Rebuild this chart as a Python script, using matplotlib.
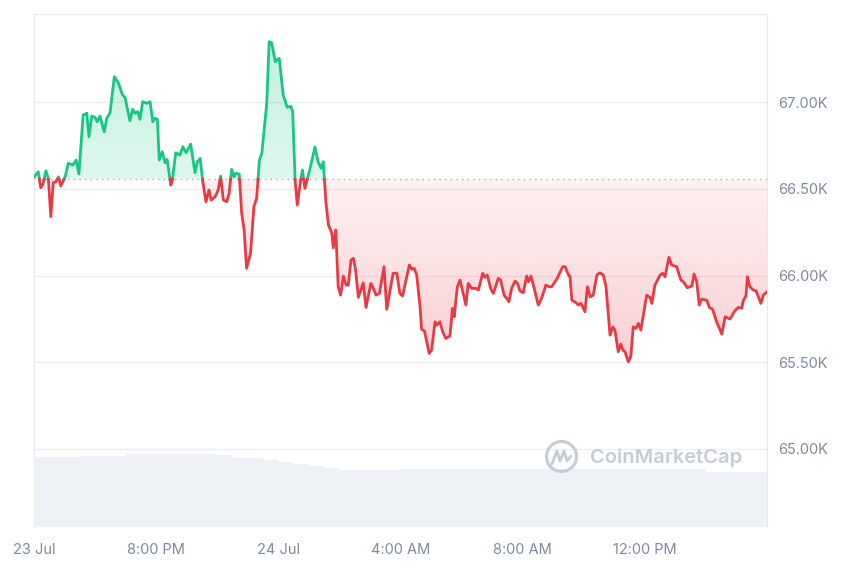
import numpy as np
import matplotlib.pyplot as plt
from matplotlib.colors import to_rgb
from matplotlib.patches import Circle
from matplotlib.path import Path
from matplotlib.patches import PathPatch
from matplotlib.ticker import FuncFormatter

plt.rcParams['font.family'] = ['Inter', 'DejaVu Sans']

# hours since 23 Jul 16:00
hours = [0.00, 0.14, 0.22, 0.30, 0.39, 0.47, 0.55, 0.63, 0.72, 0.80, 0.88, 1.02, 1.12, 1.27, 1.38, 1.47,
         1.61, 1.73, 1.80, 1.89, 2.00, 2.07, 2.16, 2.30, 2.38, 2.49, 2.63, 2.76, 2.90, 2.98, 3.14, 3.23,
         3.31, 3.40, 3.47, 3.56, 3.69, 3.80, 3.89, 3.96, 4.04, 4.10, 4.20, 4.29, 4.36, 4.48, 4.53, 4.64,
         4.78, 4.87, 4.98, 5.05, 5.13, 5.27, 5.35, 5.44, 5.52, 5.63, 5.73, 5.80, 5.93, 6.03, 6.11, 6.20,
         6.31, 6.39, 6.47, 6.55, 6.61, 6.72, 6.80, 6.88, 6.96, 7.09, 7.20, 7.29, 7.38, 7.46, 7.62, 7.70,
         7.78, 7.90, 7.97, 8.03, 8.16, 8.29, 8.41, 8.47, 8.55, 8.62, 8.71, 8.79, 8.87, 9.04, 9.20, 9.30,
         9.40, 9.47, 9.56, 9.64, 9.75, 9.80, 9.88, 9.96, 10.04, 10.13, 10.22, 10.29, 10.38, 10.46, 10.53,
         10.62, 10.73, 10.78, 10.87, 11.03, 11.11, 11.20, 11.31, 11.46, 11.55, 11.66, 11.76, 11.88, 11.98,
         12.07, 12.18, 12.29, 12.37, 12.45, 12.53, 12.64, 12.69, 12.78, 12.86, 12.94, 13.02, 13.13, 13.19,
         13.29, 13.38, 13.48, 13.62, 13.70, 13.76, 13.86, 13.95, 14.14, 14.22, 14.33, 14.47, 14.55, 14.69,
         14.77, 14.84, 14.95, 15.04, 15.20, 15.28, 15.39, 15.48, 15.55, 15.64, 15.75, 15.83, 15.91, 16.02,
         16.13, 16.19, 16.27, 16.35, 16.51, 16.62, 16.76, 16.87, 16.95, 17.13, 17.31, 17.39, 17.50, 17.55,
         17.61, 17.75, 17.82, 17.91, 18.04, 18.12, 18.21, 18.31, 18.43, 18.53, 18.64, 18.73, 18.86, 18.95,
         19.02, 19.13, 19.21, 19.28, 19.35, 19.46, 19.54, 19.62, 19.71, 19.79, 19.87, 20.06, 20.17, 20.23,
         20.33, 20.50, 20.59, 20.66, 20.79, 20.88, 21.04, 21.18, 21.26, 21.39, 21.54, 21.61, 21.70, 21.78,
         21.86, 22.03, 22.11, 22.22, 22.35, 22.52, 22.63, 22.79, 22.95, 23.06, 23.17, 23.23, 23.31, 23.36,
         23.44, 23.55, 23.64, 23.80, 23.88, 24.00]

price = [66569, 66599, 66507, 66532, 66605, 66561, 66340, 66536, 66542, 66570, 66517, 66570, 66648, 66638,
         66667, 66586, 66927, 66937, 66801, 66921, 66913, 66888, 66921, 66830, 66908, 66940, 67148, 67113,
         67042, 67029, 66894, 66960, 66937, 66946, 66902, 67004, 66994, 67004, 66888, 66908, 66902, 66667,
         66715, 66651, 66671, 66523, 66551, 66709, 66696, 66744, 66709, 66734, 66759, 66594, 66657, 66677,
         66551, 66426, 66494, 66436, 66455, 66494, 66574, 66436, 66426, 66475, 66613, 66570, 66590, 66586,
         66359, 66263, 66042, 66128, 66397, 66446, 66667, 66706, 66994, 67350, 67344, 67234, 67248, 67254,
         67042, 66971, 66977, 66946, 66551, 66407, 66523, 66609, 66503, 66619, 66742, 66657, 66619, 66657,
         66419, 66292, 66245, 66159, 66263, 65935, 65887, 65997, 65945, 65945, 66090, 66099, 66032, 65874,
         65932, 65958, 65816, 65955, 65926, 65887, 65897, 66051, 65805, 65916, 66013, 66013, 65897, 65882,
         65974, 66061, 66036, 66042, 66003, 65820, 65689, 65681, 65618, 65551, 65570, 65733, 65714, 65733,
         65676, 65637, 65651, 65811, 65762, 65935, 65974, 65830, 65955, 65926, 65926, 65916, 66013, 65990,
         66003, 65926, 65897, 65984, 65974, 65887, 65868, 65849, 65926, 65968, 65955, 65912, 65901, 65997,
         65964, 65997, 65945, 65830, 65868, 65945, 65935, 65935, 65984, 66051, 66051, 66003, 65993, 65858,
         65843, 65830, 65839, 65791, 65935, 65877, 65887, 66003, 66016, 66003, 65935, 65656, 65703, 65685,
         65560, 65604, 65570, 65560, 65502, 65531, 65704, 65695, 65724, 65685, 65887, 65874, 65839, 65945,
         66003, 66013, 65993, 66105, 66061, 66051, 65974, 65964, 65930, 65939, 66009, 65964, 65830, 65864,
         65858, 65816, 65805, 65733, 65662, 65762, 65749, 65797, 65816, 65811, 65858, 65882, 65993, 65935,
         65916, 65912, 65839, 65887, 65906]

open_price = 66555

# 24h volume, $B, half-hour steps
volume = [27.3, 27.3, 27.3, 27.7, 27.7, 27.7, 28.2, 28.4, 28.4, 28.4, 28.4, 28.4,
          27.8, 26.9, 26.6, 25.8, 25.2, 24.5, 23.8, 23.0, 22.1, 22.1, 22.1, 22.2,
          22.5, 22.5, 22.5, 22.5, 22.5, 22.5, 22.5, 22.5, 22.5, 22.5, 22.5, 22.5,
          22.5, 22.5, 22.5, 22.5, 22.5, 22.5, 22.5, 22.5, 21.5, 21.5, 21.5, 21.5]

tick_hours = [0, 4, 8, 12, 16, 20]
tick_labels = ['23 Jul', '8:00 PM', '24 Jul', '4:00 AM', '8:00 AM', '12:00 PM']
price_ticks = [65000, 65500, 66000, 66500, 67000]

green = '#16c784'
red = '#ea3943'
grey = '#808a9d'

# insert points where the line crosses the open price
xs, ys = [hours[0]], [price[0]]
for i in range(1, len(hours)):
    p0, p1 = price[i - 1], price[i]
    if (p0 - open_price) * (p1 - open_price) < 0:
        t = (open_price - p0) / (p1 - p0)
        xs.append(hours[i - 1] + t * (hours[i] - hours[i - 1]))
        ys.append(open_price)
    xs.append(hours[i])
    ys.append(p1)
xs = np.array(xs)
ys = np.array(ys)


def gradient_fill(ax, x, y_lo, y_hi, color, a_bottom, a_top, y0, y1):
    poly = ax.fill_between(x, y_lo, y_hi, facecolor='none', edgecolor='none')
    img = np.zeros((200, 1, 4))
    img[:, :, :3] = to_rgb(color)
    img[:, 0, 3] = np.linspace(a_bottom, a_top, 200)
    im = ax.imshow(img, extent=[x.min(), x.max(), y0, y1], origin='lower',
                   aspect='auto', zorder=1, interpolation='bilinear')
    im.set_clip_path(poly.get_paths()[0], transform=ax.transData)


fig = plt.figure(figsize=(8.6, 5.73), dpi=100)
ax = fig.add_axes([34 / 860, 1 - 526.7 / 573, 733 / 860, (526.7 - 13.5) / 573])

# volume on its own hidden scale
ax2 = ax.twinx()
vol_x = np.arange(len(volume)) * 0.5 + 0.25
ax2.bar(vol_x, volume, width=0.5, color='#eef1f5', linewidth=0)
ax2.set_ylim(0, 200)
ax2.yaxis.set_visible(False)
for s in ax2.spines.values():
    s.set_visible(False)

gradient_fill(ax, xs, open_price, np.maximum(ys, open_price), green, 0.14, 0.26, open_price, ys.max())
gradient_fill(ax, xs, np.minimum(ys, open_price), open_price, red, 0.24, 0.07, ys.min(), open_price)

ax.plot(xs, np.where(ys >= open_price, ys, np.nan), color=green, lw=2.0, solid_joinstyle='round', zorder=3)
ax.plot(xs, np.where(ys <= open_price, ys, np.nan), color=red, lw=2.0, solid_joinstyle='round', zorder=3)
ax.axhline(open_price, color='#9a9fa8', lw=0.9, ls=(0, (1, 3.5)), zorder=2)

ax.set_xlim(0, 24)
ax.set_ylim(64550, 67513)
ax.set_xticks(tick_hours)
ax.set_xticklabels(tick_labels)
ax.set_yticks(price_ticks)
ax.yaxis.set_major_formatter(FuncFormatter(lambda v, p: f'{v / 1000:.2f}K'))
ax.yaxis.tick_right()
ax.tick_params(axis='both', length=0, labelcolor=grey, labelsize=10.5)
ax.tick_params(axis='x', pad=12)
ax.tick_params(axis='y', pad=8)
ax.grid(axis='y', color='#eceef2', lw=1)
ax.set_axisbelow(True)
ax.spines['bottom'].set_visible(False)
for s in ['top', 'left', 'right']:
    ax.spines[s].set_color('#e6e8ec')

# watermark
wm = '#c5ccd7'
fig.add_artist(Circle((5.615, 1.165), 0.15, transform=fig.dpi_scale_trans,
                      fill=False, ec=wm, lw=2.2))
logo = Path([(5.52, 1.09), (5.57, 1.22), (5.60, 1.12), (5.64, 1.22), (5.67, 1.12), (5.71, 1.17)])
fig.add_artist(PathPatch(logo, transform=fig.dpi_scale_trans, fill=False, ec=wm, lw=2.0,
                         joinstyle='round', capstyle='round'))
fig.text(5.90 / 8.6, 1 - 458 / 573, 'CoinMarketCap', fontsize=14.5, fontweight='semibold',
         color=wm, va='center', ha='left')

fig.savefig('out.png', dpi=100, facecolor='white')
